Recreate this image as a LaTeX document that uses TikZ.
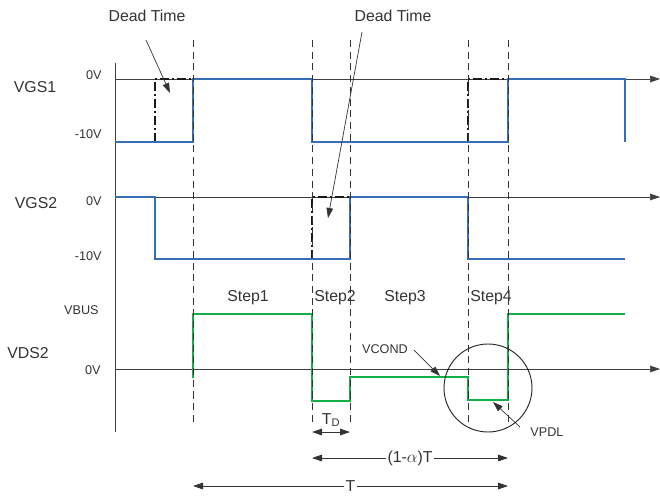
\documentclass[tikz,border=0pt]{standalone}
\usepackage{fontspec}
\setmainfont{Liberation Sans}
\usetikzlibrary{arrows.meta}
\definecolor{gateCol}{RGB}{55,110,185}
\definecolor{drainCol}{RGB}{20,175,75}
\tikzset{
  axis/.style={draw=black!75,line width=0.6pt,-{Triangle[length=3mm,width=2mm]}},
  guide/.style={draw=black!80,line width=0.7pt,dash pattern=on 6pt off 4pt},
  ideal/.style={draw=black!90,line width=0.9pt,dash pattern=on 8pt off 2.5pt on 1.5pt off 2.5pt},
  gate/.style={draw=gateCol,line width=2.3pt},
  drain/.style={draw=drainCol,line width=2.3pt},
  big/.style={font=\fontsize{13.5}{16}\selectfont,text=black!80},
  small/.style={font=\fontsize{10.8}{13}\selectfont,text=black!80},
  lbl/.style={small,anchor=east,inner sep=1pt},
  call/.style={draw=black!80,line width=0.6pt,-{Triangle[length=3mm,width=2mm]}},
  dim/.style={draw=black!80,line width=0.7pt,{Triangle[length=3mm,width=2mm]}-{Triangle[length=3mm,width=2mm]}},
}
\begin{document}
\begin{tikzpicture}[x=0.03cm,y=-0.03cm]
  \useasboundingbox (0,0) rectangle (660,496);
  % axes
  \draw[draw=black!75,line width=0.6pt] (115,63) -- (115,432);
  \draw[axis] (115,79) -- (660,79);
  \draw[axis] (115,197) -- (660,197);
  \draw[axis] (115,369) -- (660,369);
  % ideal edges
  \draw[ideal] (155,142) -- (155,79) -- (193,79);
  \draw[ideal] (468,142) -- (468,79) -- (508,79);
  \draw[ideal] (312,259) -- (312,197) -- (350,197);
  % waveforms
  \draw[gate] (115,142) -| (193,79) -| (312,142) -| (508,79) -| (625,142);
  \draw[gate] (115,197) -| (155,259) -| (350,197) -| (468,259) -- (625,259);
  \draw[drain] (193,378) |- (312,314) |- (350,401) |- (468,377) |- (508,400) |- (625,314);
  \foreach \x in {193,312,350,468,508}
    \draw[guide] (\x,40) -- (\x,424);
  % labels
  \node[big] (vgsone) at (35,87) {VGS1};
  \node[big] (vgstwo) at (36,203) {VGS2};
  \node[big] (vdstwo) at (28,353) {VDS2};
  \node[lbl] (onezero) at (103,75) {0V};
  \node[lbl] (oneneg) at (103,134) {-10V};
  \node[lbl] (twozero) at (103,201) {0V};
  \node[lbl] (twoneg) at (103,256) {-10V};
  \node[lbl] (vbus) at (100,310) {VBUS};
  \node[lbl] (dszero) at (102,370) {0V};
  \node[big] (stepA) at (248,298) {Step1};
  \node[big] (stepB) at (335,298) {Step2};
  \node[big] (stepC) at (405,298) {Step3};
  \node[big] (stepD) at (491,298) {Step4};
  \node[big] (deadA) at (147,16) {Dead Time};
  \node[big] (deadB) at (393,16) {Dead Time};
  \node[small] (vcond) at (385,349) {VCOND};
  \node[small] (vpdl) at (547,432) {VPDL};
  \node[big] (td) at (331,420) {T\textsubscript{D}};
  % callouts
  \coordinate (deadAfrom) at (146,40);
  \coordinate (deadAto) at (170,93);
  \coordinate (deadBfrom) at (362,32);
  \coordinate (deadBto) at (328,218);
  \coordinate (vcondfrom) at (414,350);
  \coordinate (vcondto) at (440,376);
  \coordinate (vpdlfrom) at (520,427);
  \coordinate (vpdlto) at (493,402);
  \draw[call] (deadAfrom) -- (deadAto);
  \draw[call] (deadBfrom) -- (deadBto);
  \draw[call] (vcondfrom) -- (vcondto);
  \draw[call] (vpdlfrom) -- (vpdlto);
  \draw[black!85,line width=0.8pt] (488,388) circle[radius=1.32cm];
  % periods
  \coordinate (tdl) at (312,432);
  \coordinate (tdr) at (350,432);
  \coordinate (al) at (312,458);
  \coordinate (ar) at (508,458);
  \coordinate (tl) at (193,486);
  \coordinate (tr) at (508,486);
  \draw[dim] (tdl) -- (tdr);
  \draw[dim] (al) -- node[big,fill=white,inner sep=1pt] (alpha) {(1-$\alpha$)T} (ar);
  \draw[dim] (tl) -- node[big,fill=white,inner sep=1pt] (period) {T} (tr);
\end{tikzpicture}
\end{document}
